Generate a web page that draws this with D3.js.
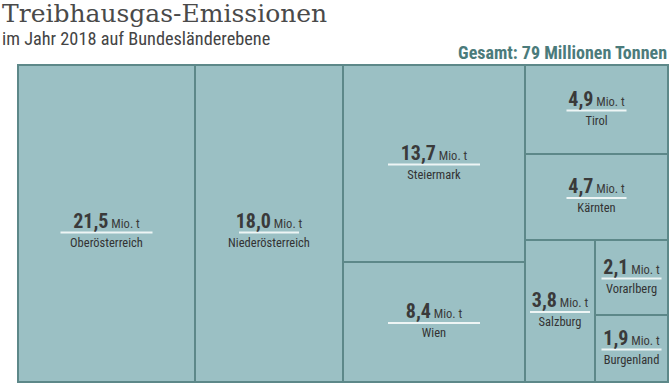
<!DOCTYPE html>
<html><head><meta charset="utf-8">
<script src="https://cdn.jsdelivr.net/npm/d3@7"></script>
<style>
body{margin:0;background:#fff;}
.cond{font-family:"Roboto Condensed","Liberation Sans Narrow","DejaVu Sans Condensed","Arial Narrow",sans-serif;}
</style></head>
<body><svg id="c" width="670" height="383"></svg>
<script>
const title = "Treibhausgas-Emissionen";
const subtitle = "im Jahr 2018 auf Bundesländerebene";
const totalLabel = "Gesamt: 79 Millionen Tonnen";
const regions = ["Oberösterreich","Niederösterreich","Steiermark","Wien","Tirol","Kärnten","Salzburg","Vorarlberg","Burgenland"];
const emissions = [21.5,18.0,13.7,8.4,4.9,4.7,3.8,2.1,1.9];
const unit = "Mio. t";
// nesting of the tiles (indices into regions)
const nesting = [0,1,[2,3],[4,5,[6,[7,8]]]];

const svg = d3.select("#c");
const fmt = v => d3.format(".1f")(v).replace(".", ",");

svg.append("text").attr("x",2).attr("y",22)
  .attr("font-family","'DejaVu Serif',serif").attr("font-size",25).attr("fill","#4a4a4a")
  .text(title);
svg.append("text").attr("class","cond").attr("x",2).attr("y",45)
  .attr("font-size",18.3).attr("fill","#444").text(subtitle);
svg.append("text").attr("class","cond").attr("x",667).attr("y",59).attr("text-anchor","end")
  .attr("font-size",18).attr("font-weight","bold").attr("fill","#4b7b7b").text(totalLabel);

function build(n){
  if (Array.isArray(n)) return {children:n.map(build)};
  return {name:regions[n], value:emissions[n]};
}
const root = d3.hierarchy(build(nesting)).sum(d => d.value || 0);
const W = 650, H = 317, X0 = 18, Y0 = 65;
d3.treemap().tile(d3.treemapSliceDice).size([W,H]).round(true)(root);

const g = svg.append("g").attr("transform",`translate(${X0},${Y0})`);
const leaves = root.leaves();
g.selectAll("rect").data(leaves).join("rect")
  .attr("x",d=>d.x0).attr("y",d=>d.y0)
  .attr("width",d=>d.x1-d.x0).attr("height",d=>d.y1-d.y0)
  .attr("fill","#9bc0c4").attr("stroke","#5d8889").attr("stroke-width",2);

const lab = g.selectAll("g.lab").data(leaves).join("g").attr("class","lab cond")
  .attr("transform",d=>`translate(${(d.x0+d.x1)/2},${(d.y0+d.y1)/2+((d.y1-d.y0)>300?9:1)})`);
lab.append("line")
  .attr("x1",d=>-((d.x1-d.x0)>150?46:30)).attr("x2",d=>((d.x1-d.x0)>150?46:30))
  .attr("stroke","#eef5f5").attr("stroke-width",2);
const t = lab.append("text").attr("text-anchor","middle").attr("y",-5).attr("fill","#3a3a3a");
t.append("tspan").attr("font-size",20).attr("font-weight","bold").text(d=>fmt(d.data.value));
t.append("tspan").attr("font-size",12.5).text(" "+unit);
lab.append("text").attr("text-anchor","middle").attr("y",14).attr("font-size",12.5)
  .attr("fill","#333").text(d=>d.data.name);
</script></body></html>
